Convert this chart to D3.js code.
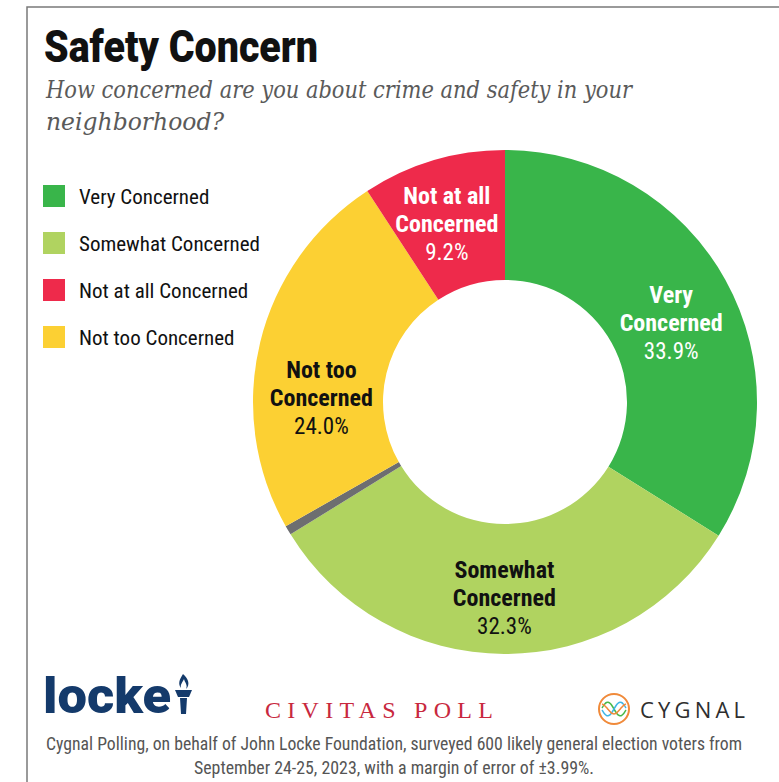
<!DOCTYPE html>
<html>
<head>
<meta charset="utf-8">
<script src="https://cdn.jsdelivr.net/npm/d3@7"></script>
<style>
  html, body { margin: 0; padding: 0; background: #fff; }
  svg { display: block; }
</style>
</head>
<body>
<svg id="chart" width="779" height="782"></svg>
<script>
// Survey responses, in slice order (clockwise from 12 o'clock)
const categories = ["Very Concerned", "Somewhat Concerned", "Unsure", "Not too Concerned", "Not at all Concerned"];
const shares = [33.9, 32.3, 0.6, 24.0, 9.2];
const sliceLabels = [["Very", "Concerned"], ["Somewhat", "Concerned"], null, ["Not too", "Concerned"], ["Not at all", "Concerned"]];
const legendOrder = ["Very Concerned", "Somewhat Concerned", "Not at all Concerned", "Not too Concerned"];

const title = "Safety Concern";
const subtitleLines = ["How concerned are you about crime and safety in your", "neighborhood?"];
const footnoteLines = [
  "Cygnal Polling, on behalf of John Locke Foundation, surveyed 600 likely general election voters from",
  "September 24-25, 2023, with a margin of error of \u00b13.99%."
];

const colorScale = d3.scaleOrdinal()
  .domain(categories)
  .range(["#39b54a", "#b0d360", "#6d6e70", "#fcd033", "#ee2a4b"]);
const labelInk = { "Very Concerned": "#fff", "Somewhat Concerned": "#111", "Not too Concerned": "#111", "Not at all Concerned": "#fff" };
const labelNudge = { "Very Concerned": [0, 11], "Somewhat Concerned": [0, 4], "Not too Concerned": [1, 39], "Not at all Concerned": [-4, 2] };

const condensed = "'Roboto Condensed', 'Liberation Sans Narrow', 'Arial Narrow', 'DejaVu Sans Condensed', Roboto, sans-serif";

const svg = d3.select("#chart");

// frame
svg.append("path")
  .attr("d", "M27,782 V7 H779")
  .attr("fill", "none").attr("stroke", "#7a7a7a").attr("stroke-width", 1.5);

// heading
svg.append("text")
  .attr("x", 44).attr("y", 62)
  .attr("font-family", "Roboto, 'Liberation Sans', sans-serif")
  .attr("font-weight", 900).attr("font-size", 44)
  .attr("textLength", 274).attr("lengthAdjust", "spacingAndGlyphs")
  .attr("fill", "#111").text(title);

const subWidths = [586, 178];
svg.selectAll("text.sub").data(subtitleLines).join("text")
  .attr("class", "sub")
  .attr("x", 46).attr("y", (d, i) => 98 + i * 32)
  .attr("font-family", "'DejaVu Serif Condensed', 'DejaVu Serif', serif")
  .attr("font-style", "italic").attr("font-size", 24)
  .attr("textLength", (d, i) => subWidths[i]).attr("lengthAdjust", "spacingAndGlyphs")
  .attr("fill", "#5a5a5a").text(d => d);

// legend
const legend = svg.append("g").attr("transform", "translate(43,185)");
const legendRow = legend.selectAll("g").data(legendOrder).join("g")
  .attr("transform", (d, i) => `translate(0,${i * 47})`);
legendRow.append("rect").attr("width", 22).attr("height", 22).attr("fill", d => colorScale(d));
legendRow.append("text")
  .attr("x", 36).attr("y", 19)
  .attr("font-family", condensed).attr("font-size", 21)
  .attr("fill", "#111").text(d => d);

// donut
const cx = 505, cy = 402, rOuter = 252, rInner = 122;
const pie = d3.pie().sort(null).value(d => d.value);
const slices = pie(categories.map((c, i) => ({ name: c, value: shares[i], lines: sliceLabels[i] })));
const arc = d3.arc().innerRadius(rInner).outerRadius(rOuter);
const labelArc = d3.arc().innerRadius(rInner + 3).outerRadius(rOuter + 3);

const donut = svg.append("g").attr("transform", `translate(${cx},${cy})`);
donut.selectAll("path").data(slices).join("path")
  .attr("d", arc)
  .attr("fill", d => colorScale(d.data.name));

const labels = donut.selectAll("g.lab").data(slices.filter(d => d.data.lines)).join("g")
  .attr("class", "lab")
  .attr("transform", d => {
    const [x, y] = labelArc.centroid(d);
    const [nx, ny] = labelNudge[d.data.name];
    return `translate(${x + nx},${y + ny})`;
  })
  .attr("text-anchor", "middle")
  .attr("fill", d => labelInk[d.data.name]);
labels.each(function (d) {
  const g = d3.select(this);
  d.data.lines.forEach((line, i) => {
    g.append("text")
      .attr("y", -18 + i * 28)
      .attr("font-family", condensed).attr("font-weight", 700).attr("font-size", 24)
      .text(line);
  });
  g.append("text")
    .attr("y", 38)
    .attr("font-family", condensed).attr("font-size", 23)
    .text(d3.format(".1f")(d.data.value) + "%");
});

// sponsor marks
const footer = svg.append("g");
footer.append("text")
  .attr("x", 43).attr("y", 713)
  .attr("font-family", "Roboto, 'Open Sans', sans-serif")
  .attr("font-weight", 900).attr("font-size", 50)
  .attr("textLength", 128).attr("lengthAdjust", "spacingAndGlyphs")
  .attr("fill", "#143a6b").text("locke");
// torch
const torch = footer.append("g").attr("fill", "#143a6b");
torch.append("path").attr("d", "M183,674 C179,680 178,684 181,688 C180,684 183,682 184,679 C185,683 188,685 186,689 C190,685 189,679 183,674 Z");
torch.append("path").attr("d", "M175,690 H192 L189,697 H178 Z");
torch.append("path").attr("d", "M180,698 H187 L186,714 H181 Z");

footer.append("text")
  .attr("x", 265).attr("y", 718)
  .attr("font-family", "'Liberation Serif', 'DejaVu Serif', serif")
  .attr("font-size", 24)
  .attr("textLength", 228).attr("lengthAdjust", "spacing")
  .attr("fill", "#c8283e").text("CIVITAS POLL");

// cygnal logo
const cyg = footer.append("g").attr("transform", "translate(614,709)");
cyg.append("circle").attr("r", 15).attr("fill", "none").attr("stroke", "#f08a3a").attr("stroke-width", 2);
const wave = (amp, phase) => d3.line().curve(d3.curveBasis)(
  d3.range(-12, 12.5, 1.5).map(x => [x, amp * Math.sin(x / 4 + phase)])
);
cyg.append("path").attr("d", wave(7, 0)).attr("fill", "none").attr("stroke", "#49b847").attr("stroke-width", 1.5);
cyg.append("path").attr("d", wave(7, Math.PI)).attr("fill", "none").attr("stroke", "#3fb6e6").attr("stroke-width", 1.5);
cyg.append("path").attr("d", wave(5, Math.PI / 2)).attr("fill", "none").attr("stroke", "#f08a3a").attr("stroke-width", 1.5);
footer.append("text")
  .attr("x", 640).attr("y", 718)
  .attr("font-family", "'Open Sans', Roboto, sans-serif")
  .attr("font-size", 22)
  .attr("textLength", 105).attr("lengthAdjust", "spacing")
  .attr("fill", "#2e2e2e").text("CYGNAL");

// methodology note
const noteWidths = [696, 400];
svg.selectAll("text.note").data(footnoteLines).join("text")
  .attr("class", "note")
  .attr("x", 394).attr("y", (d, i) => 750 + i * 24)
  .attr("text-anchor", "middle")
  .attr("font-family", condensed).attr("font-size", 18)
  .attr("textLength", (d, i) => noteWidths[i]).attr("lengthAdjust", "spacingAndGlyphs")
  .attr("fill", "#555").text(d => d);
</script>
</body>
</html>
